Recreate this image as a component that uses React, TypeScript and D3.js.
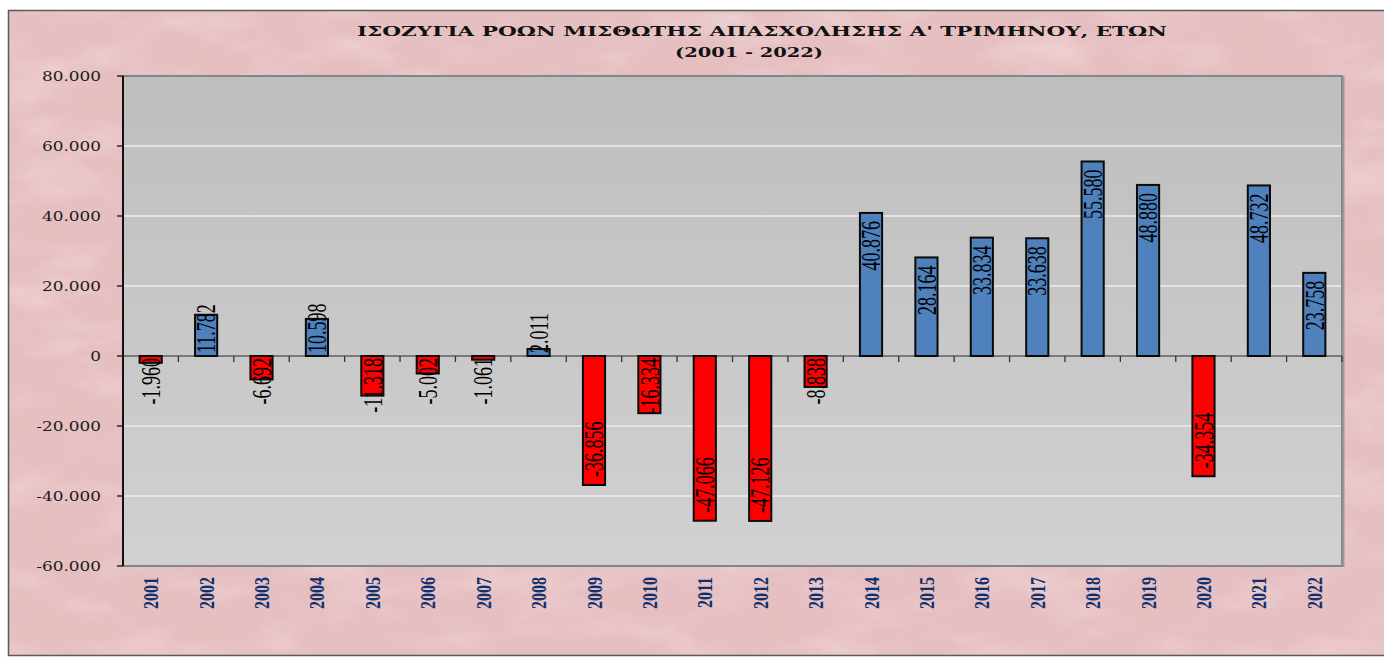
import React from 'react';
import * as d3 from 'd3';

const years = ['2001', '2002', '2003', '2004', '2005', '2006', '2007', '2008', '2009', '2010', '2011',
  '2012', '2013', '2014', '2015', '2016', '2017', '2018', '2019', '2020', '2021', '2022'];
const balance = [-1960, 11782, -6692, 10598, -11318, -5002, -1061, 2011, -36856, -16334, -47066,
  -47126, -8838, 40876, 28164, 33834, 33638, 55580, 48880, -34354, 48732, 23758];
const yTicks = [80000, 60000, 40000, 20000, 0, -20000, -40000, -60000];
const titleLine1 = "ΙΣΟΖΥΓΙΑ ΡΟΩΝ ΜΙΣΘΩΤΗΣ ΑΠΑΣΧΟΛΗΣΗΣ Α' ΤΡΙΜΗΝΟΥ, ΕΤΩΝ";
const titleLine2 = '(2001 - 2022)';

const W = 1384;
const H = 659;
const plot = { left: 123, right: 1342, top: 76, bottom: 566 };

// greek style thousands separator
const fmt = (v: number) => d3.format(',')(v).replace(/,/g, '.').replace('−', '-');

const LABEL_SIZE = 18;
// rough width of a label string at LABEL_SIZE in Liberation Serif
const labelLen = (s: string) =>
  s.split('').reduce((a, c) => a + (c === '.' ? 0.25 : c === '-' ? 0.333 : 0.5), 0) * LABEL_SIZE;

const App: React.FC = () => {
  const x = d3.scaleBand<string>()
    .domain(years)
    .range([plot.left, plot.right])
    .paddingInner(0.6)
    .paddingOuter(0.3);

  const y = d3.scaleLinear()
    .domain([-60000, 80000])
    .range([plot.bottom, plot.top]);

  const step = x.step();
  const zero = y(0);

  return (
    <svg width={W} height={H} style={{ position: 'absolute', left: 0, top: 0, display: 'block' }}>
      <defs>
        <filter id="paper" x="0" y="0" width="100%" height="100%">
          <feTurbulence type="fractalNoise" baseFrequency="0.01 0.025" numOctaves="4" seed="7" result="n" />
          <feColorMatrix in="n" type="matrix"
            values="0 0 0 0 0.98  0 0 0 0 0.85  0 0 0 0 0.86  2.0 0 0 0 -0.95" />
        </filter>
        <filter id="paperDark" x="0" y="0" width="100%" height="100%">
          <feTurbulence type="fractalNoise" baseFrequency="0.03 0.05" numOctaves="3" seed="2" result="n" />
          <feColorMatrix in="n" type="matrix"
            values="0 0 0 0 0.74  0 0 0 0 0.52  0 0 0 0 0.54  0 -2.2 0 0 1.15" />
        </filter>
        <linearGradient id="plotBg" x1="0" y1="0" x2="0" y2="1">
          <stop offset="0" stopColor="#bebebe" />
          <stop offset="1" stopColor="#d1d1d1" />
        </linearGradient>
      </defs>

      <rect x={0} y={0} width={W} height={H} fill="#ffffff" />
      <rect x={8} y={10} width={W + 20} height={646} fill="#e6bfc1" />
      <rect x={8} y={10} width={W + 20} height={646} filter="url(#paper)" opacity={0.45} />
      <rect x={8} y={10} width={W + 20} height={646} filter="url(#paperDark)" opacity={0.3} />
      <rect x={8.5} y={10.5} width={W + 20} height={645} fill="none" stroke="#5a5a5a" strokeWidth={1.5} />

      {/* title */}
      <text x={357} y={36} fontFamily="DejaVu Serif" fontWeight="bold" fontSize={13}
        textLength={810} lengthAdjust="spacingAndGlyphs" fill="#111">{titleLine1}</text>
      <text x={675} y={57} fontFamily="DejaVu Serif" fontWeight="bold" fontSize={13}
        textLength={148} lengthAdjust="spacingAndGlyphs" fill="#111">{titleLine2}</text>

      {/* plot area */}
      <rect x={plot.left} y={plot.top} width={plot.right - plot.left} height={plot.bottom - plot.top}
        fill="url(#plotBg)" />
      {yTicks.filter(t => t !== 0 && t !== 80000 && t !== -60000).map(t => (
        <line key={t} x1={plot.left} x2={plot.right} y1={y(t)} y2={y(t)} stroke="#ececec" strokeWidth={1.5} />
      ))}
      <rect x={plot.left} y={plot.top} width={plot.right - plot.left} height={plot.bottom - plot.top}
        fill="none" stroke="#858585" strokeWidth={2} />
      <line x1={plot.right + 1.5} x2={plot.right + 1.5} y1={plot.top} y2={plot.bottom + 1}
        stroke="#9a9a9a" strokeWidth={2} />

      {/* zero axis with tick marks between categories */}
      <line x1={plot.left} x2={plot.right} y1={zero} y2={zero} stroke="#5e5e5e" strokeWidth={1.5} />
      {d3.range(years.length + 1).map(i => {
        const tx = plot.left + i * step;
        return <line key={i} x1={tx} x2={tx} y1={zero} y2={zero + 6} stroke="#333" strokeWidth={1.3} />;
      })}

      {/* bars */}
      {balance.map((v, i) => {
        const bx = x(years[i]) as number;
        const y0 = Math.min(y(v), zero);
        const h = Math.abs(y(v) - zero);
        return (
          <rect key={years[i]} x={bx} y={y0} width={x.bandwidth()} height={h}
            fill={v >= 0 ? '#4f81bd' : '#ff0000'} stroke="#0a0a0a" strokeWidth={2} />
        );
      })}

      {/* y axis */}
      <line x1={plot.left} x2={plot.left} y1={plot.top} y2={plot.bottom} stroke="#111" strokeWidth={2} />
      {yTicks.map(t => (
        <g key={t} transform={`translate(0,${y(t)})`}>
          <line x1={plot.left - 6} x2={plot.left} y1={0} y2={0} stroke="#111" strokeWidth={1.3} />
          <text transform="translate(101,0) scale(1.3,1)" dy="0.36em" textAnchor="end"
            fontFamily="DejaVu Serif" fontSize={13} fill="#1a1a1a">{fmt(t)}</text>
        </g>
      ))}

      {/* year labels */}
      {years.map(yr => {
        const cx = (x(yr) as number) + x.bandwidth() / 2;
        return (
          <text key={yr} transform={`translate(${cx},577) scale(1.35,1) rotate(-90)`} dy="0.35em"
            textAnchor="end" fontFamily="Liberation Serif" fontWeight="bold" fontSize={16}
            fill="#10306e">{yr}</text>
        );
      })}

      {/* value labels, inside end of each bar */}
      {balance.map((v, i) => {
        const cx = (x(years[i]) as number) + x.bandwidth() / 2;
        const s = fmt(v);
        const len = labelLen(s);
        const pad = 8;
        let ly: number;
        let anchor: 'start' | 'end';
        if (v >= 0) {
          const top = y(v) + pad;
          if (top + len > zero - 3) { ly = zero - 3; anchor = 'start'; }
          else { ly = top; anchor = 'end'; }
        } else {
          const bottom = y(v) - pad;
          if (bottom - len < zero + 2) { ly = zero + 2; anchor = 'end'; }
          else { ly = bottom; anchor = 'start'; }
        }
        return (
          <text key={years[i]} transform={`translate(${cx},${ly}) scale(1.55,1) rotate(-90)`} dy="0.33em"
            textAnchor={anchor} fontFamily="Liberation Serif" fontSize={LABEL_SIZE} fill="#000">{s}</text>
        );
      })}
    </svg>
  );
};

export default App;
